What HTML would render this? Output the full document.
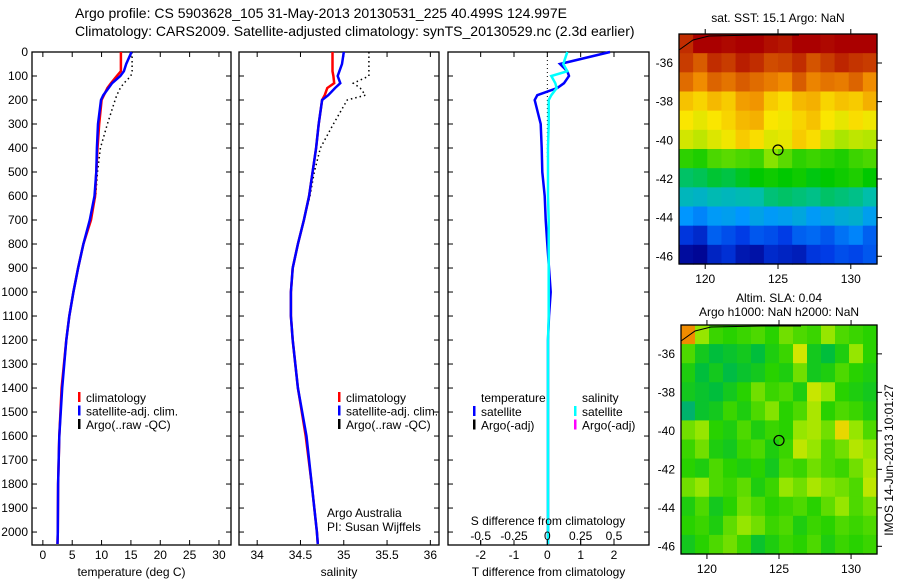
<!DOCTYPE html>
<html><head><meta charset="utf-8"><style>
html,body{margin:0;padding:0;background:#fff;}
svg{display:block;font-family:"Liberation Sans",sans-serif;}
</style></head><body>
<svg id="fig" width="900" height="580" viewBox="0 0 900 580" xmlns="http://www.w3.org/2000/svg">
<text x="75" y="18" font-size="14">Argo profile: CS 5903628_105 31-May-2013 20130531_225 40.499S 124.997E</text>
<text x="75" y="36" font-size="14">Climatology: CARS2009. Satellite-adjusted climatology: synTS_20130529.nc (2.3d earlier)</text>
<g id="g"></g>
</svg>
<script>
// ---- data ----
const depthTicks=[0,100,200,300,400,500,600,700,800,900,1000,1100,1200,1300,1400,1500,1600,1700,1800,1900,2000];
const tempTicks=[0,5,10,15,20,25,30];
const salTicks=[34,34.5,35,35.5,36];
const tdTicks=[-2,-1,0,1,2];
const sdTicks=[-0.5,-0.25,0,0.25,0.5];
const sdTickLabels=["-0.5","-0.25","0","0.25","0.5"];
const depths=[0,50,80,100,130,150,180,200,300,400,500,600,700,800,900,1000,1100,1200,1400,1600,1800,2000,2050];
const tempClim=[13.3,13.3,13.3,12.6,11.6,11.0,10.4,10.0,9.6,9.3,9.1,8.9,8.2,6.9,6.0,5.2,4.5,4.0,3.2,2.8,2.6,2.55,2.5];
const tempSat=[15.1,14.2,13.8,13.2,11.8,11.2,10.3,9.9,9.4,9.2,9.1,8.8,8.0,6.9,6.0,5.2,4.5,4.0,3.3,2.8,2.6,2.55,2.5];
const tempArgo=[15.2,15.2,15.2,15.0,13.8,13.2,12.6,12.3,11.0,9.8,9.3,9.0,8.1,6.9,6.0,5.2,4.5,4.0,3.2,2.8,2.6,2.55,2.5];
const salClim=[34.87,34.87,34.87,34.88,34.89,34.81,34.78,34.75,34.71,34.68,34.64,34.60,34.54,34.47,34.41,34.39,34.39,34.41,34.47,34.56,34.63,34.69,34.70];
const salSat=[35.0,34.98,34.95,34.93,34.96,34.90,34.82,34.75,34.71,34.68,34.64,34.60,34.54,34.47,34.41,34.39,34.39,34.41,34.47,34.57,34.63,34.69,34.70];
const salArgo=[35.29,35.29,35.29,35.29,35.11,35.19,35.25,35.04,34.88,34.73,34.66,34.61,34.54,34.47,34.41,34.39,34.39,34.41,34.47,34.56,34.63,34.69,34.70];
const tDiff=[1.88,0.38,0.6,0.65,0.5,0.3,-0.3,-0.38,-0.2,-0.17,-0.15,-0.08,-0.05,0,0.05,0.1,0.05,0.02,0.02,0.02,0.02,0.02,0.02];
const sDiff=[0.15,0.12,0.15,0.03,0.06,0.07,0.03,0.01,0.01,0.005,0.005,0.005,0.01,0.01,0.01,0.01,0.01,0.005,0.005,0.005,0.005,0.005,0.005];
const mapLonTicks=[120,125,130];
const mapLatTicks=[-36,-38,-40,-42,-44,-46];
const sstGrid=[
[18.2,18.8,18.9,18.7,18.9,18.8,18.6,18.5,18.9,18.8,18.7,18.9,18.8,18.9],
[18.0,17.6,18.2,18.0,18.4,18.2,17.8,17.9,18.2,17.7,18.0,18.3,18.1,18.0],
[17.4,17.0,17.5,17.3,17.6,17.4,17.2,17.0,17.6,17.1,17.3,17.2,17.5,17.0],
[16.4,16.2,16.5,16.3,16.8,16.9,16.3,16.1,16.5,16.6,16.2,16.4,16.3,16.6],
[16.0,15.8,16.0,16.2,16.5,16.6,16.0,15.9,16.2,16.4,16.0,15.8,16.1,15.9],
[15.6,15.4,15.7,15.9,16.3,16.1,15.7,15.8,16.3,16.1,15.5,15.2,15.4,15.3],
[14.3,14.2,14.5,14.6,14.5,14.4,14.9,14.6,14.3,14.4,14.3,14.2,14.4,14.5],
[13.4,13.5,13.7,13.6,13.8,14.0,14.1,14.0,14.1,13.9,14.0,14.1,14.2,14.0],
[12.8,12.7,12.9,12.8,12.9,13.0,13.3,13.4,13.3,13.2,13.4,13.3,13.2,13.0],
[12.0,11.8,12.1,12.2,12.0,12.3,12.1,12.2,12.4,12.1,12.3,12.5,12.6,12.2],
[10.9,10.7,11.4,11.2,11.0,11.3,11.2,11.0,11.4,11.5,11.3,11.6,11.8,11.4],
[10.2,10.1,10.6,10.8,10.4,10.3,10.7,10.6,10.5,10.9,11.0,11.2,11.1,11.3]];
const slaGrid=[
[0.30,0.10,0.05,0.04,0.05,0.06,0.04,0.08,0.06,0.05,0.10,0.06,0.05,0.04],
[0.06,0.02,0.0,0.01,0.02,0.0,0.03,0.05,0.16,0.02,0.0,0.03,0.10,0.04],
[0.03,0.0,0.02,-0.01,0.01,0.02,0.04,0.03,0.08,0.02,0.03,0.06,0.04,0.03],
[0.02,0.01,0.0,0.02,0.04,0.08,0.05,0.06,0.03,0.15,0.10,0.04,0.03,0.02],
[-0.06,0.01,0.02,0.05,0.03,0.06,0.09,0.04,0.06,0.12,0.04,0.06,0.05,0.03],
[0.08,0.10,0.04,0.03,0.06,0.03,0.05,0.04,0.10,0.12,0.08,0.20,0.10,0.06],
[0.05,0.08,0.03,0.02,0.05,0.06,0.03,0.05,0.14,0.10,0.06,0.08,0.13,0.10],
[0.04,0.03,0.06,0.04,0.03,0.04,0.02,0.06,0.05,0.08,0.06,0.05,0.08,0.12],
[0.08,0.10,0.06,0.05,0.07,0.03,0.05,0.10,0.08,0.12,0.09,0.08,0.06,0.14],
[0.03,0.06,0.02,0.04,0.08,0.06,0.04,0.05,0.06,0.04,0.07,0.10,0.06,0.08],
[0.04,0.05,0.03,0.07,0.10,0.08,0.05,0.06,0.03,0.05,0.04,0.06,0.05,0.06],
[0.02,0.04,0.06,0.08,0.05,0.01,0.03,0.05,0.04,0.06,0.03,0.05,0.04,0.05]];

const NS="http://www.w3.org/2000/svg";
const G=document.getElementById('g');
function el(tag,attrs,parent){const e=document.createElementNS(NS,tag);for(const k in attrs)e.setAttribute(k,attrs[k]);(parent||G).appendChild(e);return e;}
function txt(x,y,s,anchor,size,parent){const t=el('text',{x:x,y:y,'font-size':size||12,'text-anchor':anchor||'start'},parent);t.textContent=s;return t;}

const Y0=52,Y1=545,D0=0,D1=2054;
const yD=d=>Y0+(d-D0)/(D1-D0)*(Y1-Y0);

function panel(name,x0,x1,vmin,vmax,ticks,labels,xlabel){
  const g=el('g',{});
  
  
  const xs=v=>x0+(v-vmin)/(vmax-vmin)*(x1-x0);
  const fr=el('rect',{x:x0,y:Y0,width:x1-x0,height:Y1-Y0,fill:'none',stroke:'#000','stroke-width':1.3},g);
  
  
  depthTicks.forEach(d=>{el('line',{x1:x0,x2:x0+5,y1:yD(d),y2:yD(d),stroke:'#000'},g);el('line',{x1:x1,x2:x1-5,y1:yD(d),y2:yD(d),stroke:'#000'},g);});
  if(ticks){ticks.forEach((v,i)=>{el('line',{x1:xs(v),x2:xs(v),y1:Y1,y2:Y1-5,stroke:'#000'},g);el('line',{x1:xs(v),x2:xs(v),y1:Y0,y2:Y0+5,stroke:'#000'},g);
    const t=txt(xs(v),559,labels?labels[i]:String(v),'middle',12,g);
    
    });}
  if(xlabel){const t=txt((x0+x1)/2,576,xlabel,'middle',12,g);
    
    }
  return {g,xs};
}
function line(p,vals,color,w,dash,name){
  const pts=vals.map((v,i)=>p.xs(v).toFixed(1)+','+yD(depths[i]).toFixed(1)).join(' ');
  const a={points:pts,fill:'none',stroke:color,'stroke-width':w};
  if(dash)a['stroke-dasharray']=dash;
  const l=el('polyline',a,p.g);
  
  
}
function legend(p,x,y,items){
  items.forEach((it,i)=>{
    el('rect',{x:x,y:y+i*13.5-10,width:2.5,height:10,fill:it[1]},p.g);
    const t=txt(x+8,y+i*13.5,it[0],'start',12,p.g);
    
    
  });
}

depthTicks.forEach(d=>{const t=txt(28,yD(d)+4,String(d),'end',12);
  
  });

const p1=panel('temperature-panel',32,231,-1.85,32.05,tempTicks,null,'temperature (deg C)');
line(p1,tempArgo,'#000',1.5,'1.5,3','argo-temperature-line');
line(p1,tempClim,'#f00',2.5,null,'climatology-temperature-line');
line(p1,tempSat,'#00f',2.5,null,'satellite-temperature-line');
legend(p1,78,402,[['climatology','#f00'],['satellite-adj. clim.','#00f'],['Argo(..raw -QC)','#000']]);

const p2=panel('salinity-panel',239,439,33.79,36.1,salTicks,null,'salinity');
line(p2,salArgo,'#000',1.5,'1.5,3','argo-salinity-line');
line(p2,salClim,'#f00',2.5,null,'climatology-salinity-line');
line(p2,salSat,'#00f',2.5,null,'satellite-salinity-line');
legend(p2,338,402,[['climatology','#f00'],['satellite-adj. clim.','#00f'],['Argo(..raw -QC)','#000']]);
txt(327,517,'Argo Australia','start',12,p2.g);
txt(327,531,'PI: Susan Wijffels','start',12,p2.g);

const p3=panel('difference-panel',448,649,-2.98,3.05,tdTicks,null,'T difference from climatology');
const sx=s=>s*4;
el('line',{x1:p3.xs(0),x2:p3.xs(0),y1:Y0,y2:yD(450),stroke:'#000','stroke-dasharray':'1,3'},p3.g);
line(p3,tDiff,'#00f',2.5,null,'temperature-difference-line');
line(p3,sDiff.map(sx),'#0ff',2.5,null,'salinity-difference-line');
sdTicks.forEach((v,i)=>{el('line',{x1:p3.xs(sx(v)),x2:p3.xs(sx(v)),y1:Y1,y2:Y1-5,stroke:'#000'},p3.g);txt(p3.xs(sx(v)),540,sdTickLabels[i],'middle',12,p3.g);});
txt(548,525,'S difference from climatology','middle',12,p3.g);
txt(481,402,'temperature','start',12,p3.g);
txt(582,402,'salinity','start',12,p3.g);
legend(p3,473,416,[['satellite','#00f'],['Argo(-adj)','#000']]);
legend(p3,574,416,[['satellite','#0ff'],['Argo(-adj)','#f0f']]);

function lerpStops(stops,v){
  if(v<=stops[0][0])return stops[0][1];
  for(let i=1;i<stops.length;i++){if(v<=stops[i][0]){const a=stops[i-1],b=stops[i],t=(v-a[0])/(b[0]-a[0]);
    return a[1].map((c,k)=>Math.round(c+(b[1][k]-c)*t));}}
  return stops[stops.length-1][1];
}
const sstStops=[[10,[0,0,140]],[11,[0,60,230]],[12,[0,150,255]],[13,[0,190,170]],[14,[0,200,0]],[15,[150,230,0]],[16,[250,230,0]],[17,[240,140,0]],[18,[200,60,0]],[18.8,[170,0,0]]];
const slaStops=[[-0.1,[0,170,140]],[0.0,[0,190,60]],[0.04,[40,210,0]],[0.1,[150,230,0]],[0.18,[230,230,0]],[0.3,[240,140,0]]];
function map(name,x0,y0,x1,y1,grid,stops,titles){
  const g=el('g',{});
  
  
  const lon0=118.2,lon1=131.8,lat0=-34.5,lat1=-46.4;
  const xs=l=>x0+(l-lon0)/(lon1-lon0)*(x1-x0);
  const ys=l=>y0+(l-lat0)/(lat1-lat0)*(y1-y0);
  const rows=grid.length,cols=grid[0].length;
  const cw=(x1-x0)/cols,ch=(y1-y0)/rows;
  grid.forEach((row,r)=>row.forEach((v,c)=>{
    const col=lerpStops(stops,v);
    const cell=el('rect',{x:(x0+c*cw).toFixed(2),y:(y0+r*ch).toFixed(2),width:(cw+0.6).toFixed(2),height:(ch+0.6).toFixed(2),fill:'rgb('+col.join(',')+')'},g);
    
    
  }));
  el('polyline',{points:`${x0},${y0+16} ${x0+14},${y0+6} ${x0+30},${y0+2} ${x0+80},${y0+1} ${x0+120},${y0+1}`,fill:'none',stroke:'#000','stroke-width':1},g);
  el('rect',{x:x0,y:y0,width:x1-x0,height:y1-y0,fill:'none',stroke:'#000','stroke-width':1.3},g);
  mapLonTicks.forEach(l=>{el('line',{x1:xs(l),x2:xs(l),y1:y0,y2:y0-5,stroke:'#000'},g);el('line',{x1:xs(l),x2:xs(l),y1:y1,y2:y1+5,stroke:'#000'},g);
    txt(xs(l),y1+19,String(l),'middle',12,g);});
  mapLatTicks.forEach(l=>{el('line',{x1:x1,x2:x1+5,y1:ys(l),y2:ys(l),stroke:'#000'},g);
    txt(x0-6,ys(l)+4,String(l),'end',12,g);});
  const c=el('circle',{cx:xs(125),cy:ys(-40.5),r:5,fill:'none',stroke:'#000','stroke-width':1.2},g);
  
  
  titles.forEach((t,i)=>{const e=txt((x0+x1)/2,titles.length==1?y0-12:y0-23+i*14,t,'middle',12,g);
    
    });
}
map('sst-map',679,34,877,264,sstGrid,sstStops,['sat. SST: 15.1 Argo: NaN']);
map('sla-map',681,325,877,554,slaGrid,slaStops,['Altim. SLA: 0.04','Argo h1000: NaN h2000: NaN']);
const st=txt(0,0,'IMOS 14-Jun-2013 10:01:27','middle',12);
st.setAttribute('transform','translate(893,460) rotate(-90)');


</script>
</body></html>
